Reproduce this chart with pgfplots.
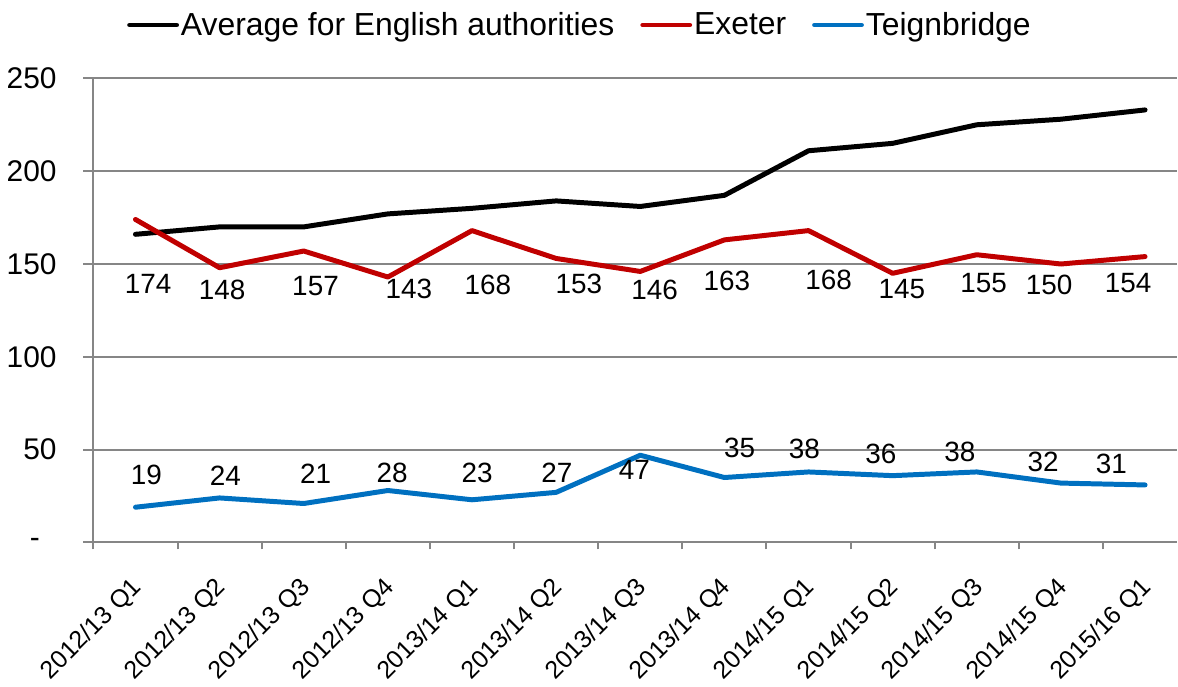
\documentclass[border=0pt]{standalone}
\usepackage{pgfplots}
\pgfplotsset{compat=1.18}
\usepackage{fontspec}
\setmainfont{Liberation Sans}
\definecolor{exred}{HTML}{C00000}
\definecolor{tgblue}{HTML}{0070C0}
\definecolor{axgray}{HTML}{868686}

\begin{document}
\begin{tikzpicture}[font=\fontsize{14pt}{16pt}\selectfont]
\begin{axis}[
    scale only axis,
    width=544pt, height=233pt,
    xmin=-0.5, xmax=12.38,
    ymin=0, ymax=250,
    axis x line*=bottom, axis y line*=left,
    axis line style={axgray, line width=1pt, -},
    xtick={0,...,12},
    xticklabels={2012/13 Q1,2012/13 Q2,2012/13 Q3,2012/13 Q4,2013/14 Q1,2013/14 Q2,2013/14 Q3,2013/14 Q4,2014/15 Q1,2014/15 Q2,2014/15 Q3,2014/15 Q4,2015/16 Q1},
    major x tick style={draw=none},
    minor xtick={-0.5,0.5,...,11.5},
    minor x tick style={axgray, line width=1pt},
    minor tick length=3.5pt,
    xticklabel style={font=\fontsize{12.5pt}{14pt}\selectfont, rotate=45,
        anchor=north east, inner sep=1pt, yshift=-5pt, xshift=-9pt},
    ytick={0,50,...,250},
    yticklabels={-\hphantom{0},50,100,150,200,250},
    y tick style={axgray, line width=1pt},
    major tick length=5pt,
    tick align=outside,
    yticklabel style={font=\fontsize{15pt}{17pt}\selectfont, xshift=-10pt},
    ymajorgrids,
    grid style={axgray, line width=1pt},
    legend style={at={(0.449,1.115)}, anchor=center, draw=none, fill=none,
        legend columns=-1, inner xsep=0pt, inner ysep=5pt, nodes={inner sep=1pt},
        font=\fontsize{16pt}{18pt}\selectfont,
        /tikz/every even column/.append style={column sep=12pt}},
    legend image code/.code={\draw[#1] (0pt,0pt) -- (23.5pt,0pt);},
    legend cell align=left,
    every axis plot/.append style={line width=2.5pt, line cap=round, line join=round},
]
\addplot[black] coordinates {
    (0,166) (1,170) (2,170) (3,177) (4,180) (5,184) (6,181)
    (7,187) (8,211) (9,215) (10,225) (11,228) (12,233)
};
\addlegendentry{Average for English authorities\hspace{8.5pt}}
\addplot[exred] coordinates {
    (0,174) (1,148) (2,157) (3,143) (4,168) (5,153) (6,146)
    (7,163) (8,168) (9,145) (10,155) (11,150) (12,154)
};
\addlegendentry{Exeter}
\addplot[tgblue] coordinates {
    (0,19) (1,24) (2,21) (3,28) (4,23) (5,27) (6,47)
    (7,35) (8,38) (9,36) (10,38) (11,32) (12,31)
};
\addlegendentry{Teignbridge}

% Exeter data labels
\node at (axis cs:0.15,139.5) {174};
\node at (axis cs:1.03,136.3) {148};
\node at (axis cs:2.14,138.4) {157};
\node at (axis cs:3.25,136.8) {143};
\node at (axis cs:4.19,138.9) {168};
\node at (axis cs:5.27,139.5) {153};
\node at (axis cs:6.17,136.3) {146};
\node at (axis cs:7.03,141.1) {163};
\node at (axis cs:8.24,141.6) {168};
\node at (axis cs:9.11,136.3) {145};
\node at (axis cs:10.08,139.5) {155};
\node at (axis cs:10.86,138.9) {150};
\node at (axis cs:11.8,140.0) {154};
% Teignbridge data labels
\node at (axis cs:0.13,36.5) {19};
\node at (axis cs:1.07,35.9) {24};
\node at (axis cs:2.14,37.0) {21};
\node at (axis cs:3.05,37.6) {28};
\node at (axis cs:4.06,37.6) {23};
\node at (axis cs:5.01,37.6) {27};
\node at (axis cs:5.93,39.2) {47};
\node at (axis cs:7.18,51.0) {35};
\node at (axis cs:7.95,50.4) {38};
\node at (axis cs:8.86,47.7) {36};
\node at (axis cs:9.8,48.8) {38};
\node at (axis cs:10.79,43.5) {32};
\node at (axis cs:11.6,42.4) {31};
\end{axis}
\end{tikzpicture}
\end{document}
